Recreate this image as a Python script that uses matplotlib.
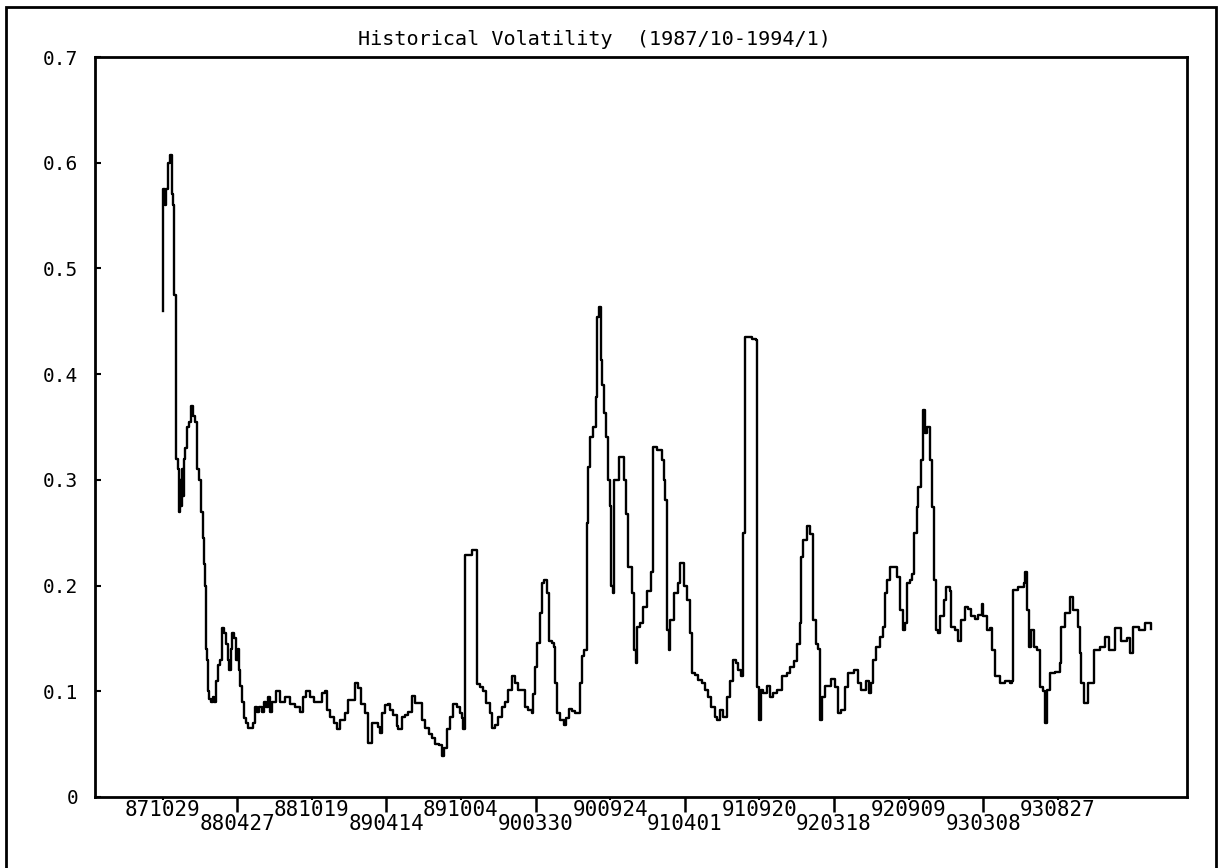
import numpy as np
import matplotlib
matplotlib.use("Agg")
import matplotlib.pyplot as plt
from matplotlib.patches import Rectangle

# trading-day index and historical volatility
days = [0, 1, 4, 6, 9, 12, 15, 17, 18, 22, 25, 27, 28, 30, 31, 33, 35, 36, 39, 43,
        46, 49, 52, 55, 59, 62, 65, 67, 68, 70, 72, 73, 75, 78, 81, 83, 86, 89, 92, 96,
        99, 102, 105, 107, 110, 112, 115, 118, 121, 123, 125, 128, 131, 134, 138, 142, 146, 149, 152, 155,
        160, 163, 166, 170, 173, 176, 183, 189, 197, 205, 213, 221, 226, 231, 237, 243, 251, 256, 261, 264,
        269, 275, 280, 286, 294, 299, 304, 310, 315, 320, 326, 331, 337, 342, 347, 350, 353, 358, 362, 366,
        371, 377, 379, 385, 390, 395, 401, 406, 411, 417, 422, 428, 433, 438, 444, 449, 452, 457, 462, 468,
        473, 479, 481, 484, 486, 492, 497, 505, 506, 511, 516, 521, 527, 530, 535, 540, 546, 551, 556, 562,
        567, 572, 578, 583, 588, 594, 596, 599, 603, 607, 610, 614, 618, 621, 626, 630, 631, 634, 639, 645,
        649, 653, 658, 664, 669, 672, 674, 678, 682, 685, 688, 693, 697, 699, 702, 705, 707, 710, 713, 716,
        719, 721, 724, 726, 730, 735, 739, 742, 746, 749, 755, 758, 761, 763, 768, 773, 779, 785, 789, 795,
        803, 806, 808, 811, 814, 816, 822, 829, 833, 838, 843, 849, 851, 857, 862, 867, 873, 878, 883, 889,
        892, 897, 902, 908, 913, 918, 922, 926, 931, 934, 937, 942, 948, 955, 957, 959, 962, 966, 972, 977,
        982, 988, 996, 1004, 1009, 1016, 1021, 1025, 1027, 1031, 1036, 1042, 1046, 1047, 1051, 1055, 1057, 1060, 1066, 1076,
        1081, 1086, 1091, 1097, 1102, 1108, 1113, 1118, 1124, 1129, 1132, 1136, 1140, 1143, 1148, 1154, 1159, 1162, 1165, 1170,
        1177, 1182, 1186, 1191, 1194, 1198, 1202, 1205, 1209, 1213, 1216, 1220, 1223, 1227, 1230, 1234, 1238, 1241, 1244, 1248,
        1251, 1257, 1261, 1266, 1269, 1274, 1280, 1285, 1290, 1296, 1301, 1307, 1312, 1318, 1320, 1326, 1331, 1335, 1339, 1347,
        1355, 1363, 1367, 1368, 1376, 1385, 1387, 1390, 1393, 1397, 1401, 1406, 1412, 1416, 1420, 1423, 1428, 1435, 1443, 1446,
        1452, 1460, 1465, 1472, 1475, 1478, 1482, 1489, 1498, 1508, 1516, 1523, 1532, 1542, 1551, 1556, 1561, 1571, 1580, 1590]

vol = [0.46, 0.575, 0.56, 0.575, 0.60, 0.607, 0.57, 0.56, 0.475, 0.32, 0.31, 0.27, 0.30, 0.275, 0.31, 0.285, 0.32, 0.33, 0.35, 0.355,
       0.37, 0.36, 0.355, 0.31, 0.30, 0.27, 0.245, 0.22, 0.2, 0.14, 0.13, 0.1, 0.093, 0.09, 0.095, 0.09, 0.11, 0.125, 0.13, 0.16,
       0.155, 0.145, 0.13, 0.12, 0.14, 0.155, 0.15, 0.13, 0.14, 0.12, 0.105, 0.09, 0.075, 0.07, 0.065, 0.065, 0.07, 0.085, 0.08, 0.085,
       0.08, 0.09, 0.085, 0.095, 0.08, 0.09, 0.1, 0.09, 0.095, 0.088, 0.085, 0.08, 0.095, 0.1, 0.095, 0.09, 0.09, 0.098, 0.1, 0.082,
       0.076, 0.07, 0.064, 0.073, 0.079, 0.092, 0.092, 0.108, 0.103, 0.088, 0.079, 0.051, 0.07, 0.07, 0.066, 0.061, 0.079, 0.087, 0.088, 0.082,
       0.078, 0.067, 0.064, 0.076, 0.078, 0.08, 0.096, 0.089, 0.089, 0.073, 0.065, 0.06, 0.056, 0.05, 0.049, 0.039, 0.046, 0.064, 0.076, 0.088,
       0.085, 0.079, 0.075, 0.064, 0.229, 0.229, 0.234, 0.234, 0.107, 0.104, 0.1, 0.089, 0.079, 0.065, 0.068, 0.076, 0.085, 0.09, 0.101, 0.114,
       0.108, 0.101, 0.101, 0.085, 0.082, 0.079, 0.097, 0.123, 0.146, 0.174, 0.202, 0.205, 0.193, 0.148, 0.146, 0.142, 0.108, 0.079, 0.073, 0.068,
       0.075, 0.083, 0.081, 0.079, 0.079, 0.108, 0.133, 0.139, 0.259, 0.312, 0.341, 0.35, 0.378, 0.454, 0.464, 0.413, 0.39, 0.363, 0.341, 0.3,
       0.275, 0.2, 0.193, 0.3, 0.3, 0.322, 0.322, 0.3, 0.268, 0.218, 0.193, 0.139, 0.127, 0.161, 0.165, 0.18, 0.195, 0.213, 0.331, 0.328,
       0.319, 0.3, 0.281, 0.158, 0.139, 0.167, 0.193, 0.202, 0.221, 0.2, 0.186, 0.155, 0.117, 0.115, 0.111, 0.108, 0.101, 0.095, 0.085, 0.076,
       0.073, 0.082, 0.076, 0.095, 0.11, 0.13, 0.127, 0.12, 0.114, 0.25, 0.435, 0.435, 0.433, 0.432, 0.104, 0.073, 0.101, 0.098, 0.105, 0.095,
       0.098, 0.101, 0.114, 0.117, 0.123, 0.129, 0.145, 0.165, 0.227, 0.243, 0.256, 0.249, 0.236, 0.167, 0.145, 0.14, 0.073, 0.095, 0.105, 0.112,
       0.104, 0.079, 0.082, 0.104, 0.117, 0.117, 0.12, 0.108, 0.101, 0.101, 0.11, 0.098, 0.108, 0.13, 0.142, 0.151, 0.161, 0.193, 0.205, 0.218,
       0.218, 0.208, 0.177, 0.158, 0.165, 0.202, 0.205, 0.211, 0.25, 0.274, 0.293, 0.319, 0.366, 0.344, 0.35, 0.319, 0.274, 0.205, 0.158, 0.155,
       0.171, 0.186, 0.199, 0.195, 0.161, 0.158, 0.148, 0.167, 0.18, 0.178, 0.171, 0.168, 0.172, 0.183, 0.171, 0.158, 0.16, 0.139, 0.114, 0.108,
       0.11, 0.108, 0.11, 0.196, 0.199, 0.202, 0.213, 0.177, 0.142, 0.158, 0.142, 0.139, 0.104, 0.1, 0.07, 0.101, 0.117, 0.118, 0.127, 0.161,
       0.174, 0.189, 0.177, 0.161, 0.136, 0.108, 0.089, 0.108, 0.139, 0.142, 0.151, 0.139, 0.16, 0.148, 0.15, 0.136, 0.161, 0.158, 0.165, 0.159]

# date labels: upper row sits on short ticks, lower row on long ticks
upper_dates = ["871029", "881019", "891004", "900924", "910920", "920909", "930827"]
lower_dates = ["880427", "890414", "900330", "910401", "920318", "930308"]
tick_step = 120

title = "Historical Volatility  (1987/10-1994/1)"
mono = "DejaVu Sans Mono"

fig = plt.figure(figsize=(12.2, 8.68), dpi=100)
ax = fig.add_axes([0.0779, 0.0818, 0.8951, 0.8525])

ax.plot(days, vol, color="black", linewidth=1.7, drawstyle="steps-post")

ax.set_xlim(-108.6, 1648)
ax.set_ylim(0, 0.7)

upper_pos = [2 * i * tick_step for i in range(len(upper_dates))]
lower_pos = [(2 * i + 1) * tick_step for i in range(len(lower_dates))]
ax.set_xticks(lower_pos)
ax.set_xticklabels(lower_dates, fontfamily=mono, fontsize=15)
ax.set_xticks(upper_pos, minor=True)
ax.set_xticklabels(upper_dates, minor=True, fontfamily=mono, fontsize=15)
ax.tick_params(axis="x", which="major", direction="out", length=11, width=1.8, pad=1.5)
ax.tick_params(axis="x", which="minor", direction="out", length=2, width=1.5, pad=0)

yt = np.arange(0, 0.71, 0.1)
ax.set_yticks(yt)
ax.set_yticklabels(["0"] + ["%.1f" % v for v in yt[1:]], fontfamily=mono, fontsize=14)
ax.tick_params(axis="y", direction="in", length=4, width=1.5, pad=12)

for s in ax.spines.values():
    s.set_linewidth(2)

fig.text(0.487, 0.954, title, ha="center", va="center", fontfamily=mono, fontsize=14.5)

# page frame of the printout
fig.patches.append(Rectangle((0.005, -0.01), 0.992, 1.002, transform=fig.transFigure,
                             fill=False, edgecolor="black", linewidth=2))

fig.savefig("out.png", dpi=100)
